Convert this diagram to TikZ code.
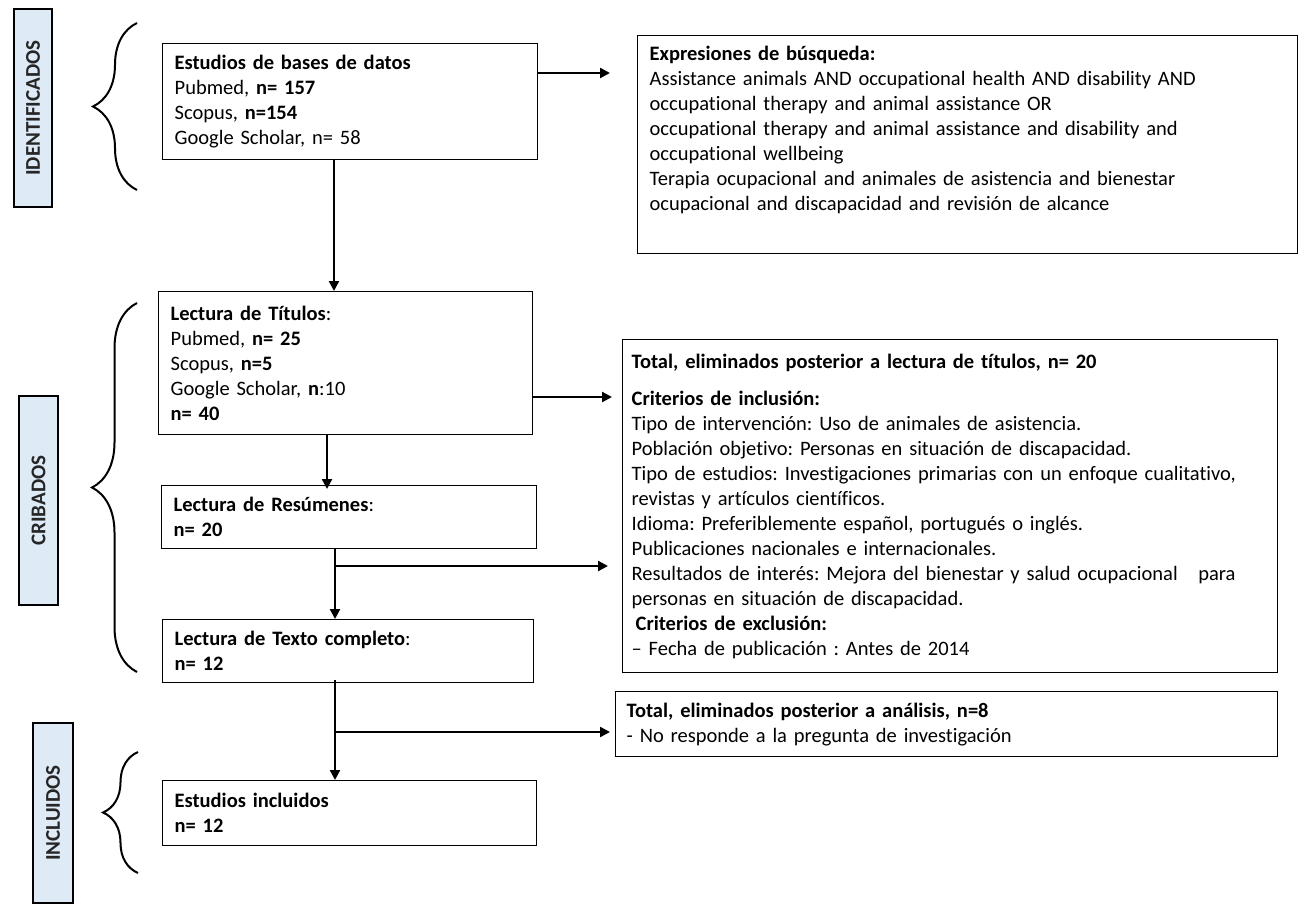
\documentclass[tikz,border=0pt]{standalone}
\usepackage{fontspec}
\setmainfont{Carlito}[Ligatures=NoCommon]
\usetikzlibrary{arrows.meta,decorations.pathreplacing}
\definecolor{stageblue}{RGB}{222,235,247}
\frenchspacing

\begin{document}
\begin{tikzpicture}[
  x=1pt, y=-1pt,
  font=\fontsize{20.5}{25}\selectfont,
  box/.style={draw, line width=1.3pt, anchor=north west, align=left, inner xsep=12pt, inner ysep=0pt},
  stage/.style={draw, line width=1.2pt, fill=stageblue, rotate=90, inner sep=0pt,
    font=\fontsize{21}{22}\selectfont\bfseries, text=black!85},
  arr/.style={line width=2.2pt, -{Triangle[length=10pt,width=10pt]}},
  bracket/.style={line width=2pt, decorate, decoration={brace, amplitude=#1}}
]
\useasboundingbox (0,0) rectangle (1313,916);

% etapas
\node[stage, minimum width=198pt, minimum height=38pt] (sid) at (33,108) {IDENTIFICADOS};
\node[stage, minimum width=209pt, minimum height=39pt] (scrib) at (38.5,500.5) {CRIBADOS};
\node[stage, minimum width=180pt, minimum height=40pt] (sincl) at (53,813) {INCLUIDOS};

% llaves
\draw[bracket=44pt] (137,190) -- (137,23);
\draw[bracket=45pt] (137,672) -- (137,303);
\draw[bracket=35pt] (138,873) -- (138,752);

% cajas
\node[box, text width=351pt, minimum height=116pt] (idb) at (162,43)
  {\textbf{Estudios de bases de datos}\\
   Pubmed, \textbf{n= 157}\\
   Scopus, \textbf{n=154}\\
   Google Scholar, n= 58};

\node[box, text width=636pt, minimum height=218pt] (search) at (637,35)
  {\textbf{Expresiones de búsqueda:}\\
   Assistance animals AND occupational health AND disability AND\\
   occupational therapy and animal assistance OR\\
   occupational therapy and animal assistance and disability and\\
   occupational wellbeing\\
   Terapia ocupacional and animales de asistencia and bienestar\\
   ocupacional and discapacidad and revisión de alcance\\
   \strut};

\node[box, text width=350pt, minimum height=143pt] (titles) at (158,291)
  {\textbf{Lectura de Títulos}:\\
   Pubmed, \textbf{n= 25}\\
   Scopus, \textbf{n=5}\\
   Google Scholar, \textbf{n}:10\\
   \textbf{n= 40}};

\node[box, text width=351pt, minimum height=63pt] (abstracts) at (161,485)
  {\textbf{Lectura de Resúmenes}:\\
   \textbf{n= 20}};

\node[box, text width=347pt, minimum height=63pt] (fulltext) at (162,619)
  {\textbf{Lectura de Texto completo}:\\
   \textbf{n= 12}};

\node[box, text width=350pt, minimum height=65pt] (included) at (162,780)
  {\textbf{Estudios incluidos}\\
   \textbf{n= 12}};

\node[box, inner xsep=9pt, text width=637pt, minimum height=333pt] (excl1) at (622,339)
  {\textbf{Total, eliminados posterior a lectura de títulos, n= 20}\\[12pt]
   \textbf{Criterios de inclusión:}\\
   Tipo de intervención: Uso de animales de asistencia.\\
   Población objetivo: Personas en situación de discapacidad.\\
   Tipo de estudios: Investigaciones primarias con un enfoque cualitativo,\\
   revistas y artículos científicos.\\
   Idioma: Preferiblemente español, portugués o inglés.\\
   Publicaciones nacionales e internacionales.\\
   Resultados de interés: Mejora del bienestar y salud ocupacional\ \ \ para\\
   personas en situación de discapacidad.\\
   \hspace{4pt}\textbf{Criterios de exclusión:}\\
   -- Fecha de publicación : Antes de 2014};

\node[box, inner xsep=11pt, text width=640pt, minimum height=65pt] (excl2) at (615,691)
  {\textbf{Total, eliminados posterior a análisis, n=8}\\
   - No responde a la pregunta de investigación};

% puntos de las flechas
\coordinate (x1) at (334,0);
\coordinate (x2) at (327,0);
\coordinate (x3) at (335,0);
\coordinate (a1) at (610,73);
\coordinate (a2) at (612,397);
\coordinate (a3) at (608,566);
\coordinate (a4) at (610,732);

% flechas
\draw[arr] (idb.east |- a1) -- (a1);
\draw[arr] (idb.south -| x1) -- (titles.north -| x1);
\draw[arr] (titles.east |- a2) -- (a2);
\draw[arr] (titles.south -| x2) -- ([yshift=-4pt]abstracts.north -| x2);
\draw[arr] (abstracts.south -| x3) -- (fulltext.north -| x3);
\draw[arr] (x3 |- a3) -- (a3);
\draw[arr] ([yshift=3pt]fulltext.south -| x3) -- (included.north -| x3);
\draw[arr] (x3 |- a4) -- (a4);
\end{tikzpicture}
\end{document}
